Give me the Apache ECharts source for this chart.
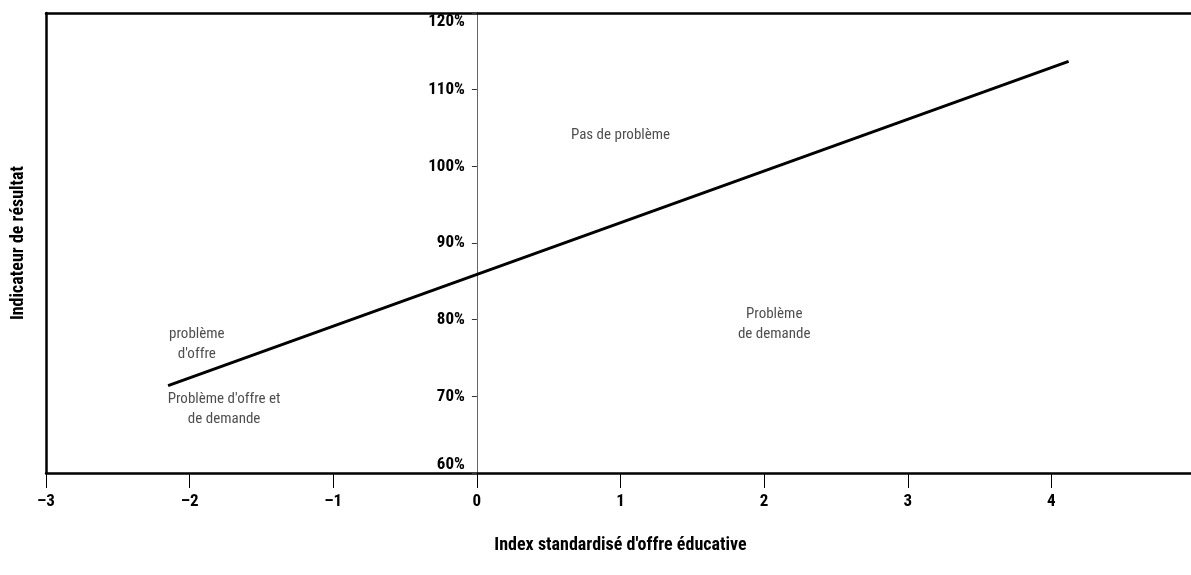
<!DOCTYPE html>
<html><head><meta charset="utf-8">
<script src="https://cdn.jsdelivr.net/npm/echarts@6/dist/echarts.min.js"></script>
<style>html,body{margin:0;padding:0;background:#fff}#c{width:1191px;height:575px}</style>
</head><body><div id="c"></div>
<script>
var FONT = '"Liberation Sans Narrow","Arial Narrow","Roboto Condensed",Roboto,sans-serif';
var xTicks = [-3, -2, -1, 0, 1, 2, 3, 4];
var yTicks = [60, 70, 80, 90, 100, 110, 120];
var lineX = [-2.15, 4.12];
var lineY = [71.4, 113.7];
var notes = [
  { text: 'Pas de problème', x: 1.0, y: 104.1 },
  { text: 'Problème\nde demande', x: 2.07, y: 79.4 },
  { text: 'problème\nd\'offre', x: -1.95, y: 76.75 },
  { text: 'Problème d\'offre et\nde demande', x: -1.76, y: 68.3 }
];
var xTitle = 'Index standardisé d\'offre éducative';
var yTitle = 'Indicateur de résultat';

var GRID_LEFT = 46;
var chart = echarts.init(document.getElementById('c'), null, { renderer: 'canvas' });
function build(yOffset) {
  return {
    animation: false,
    grid: { left: GRID_LEFT, right: -4, top: 13, bottom: 102, containLabel: false, outerBoundsMode: 'none' },
    xAxis: [{
      type: 'value', min: -3, max: 5, interval: 1, position: 'bottom',
      axisLine: { onZero: false, lineStyle: { color: '#000', width: 2.5 } },
      axisTick: { show: true, length: 15, lineStyle: { color: '#000', width: 1 } },
      axisLabel: {
        margin: 20, color: '#000', fontFamily: FONT, fontWeight: 'bold', fontSize: 17,
        formatter: function (v) { return xTicks.indexOf(v) >= 0 ? String(v).replace('-', '\u2013') : ''; }
      },
      splitLine: { show: false },
      name: xTitle, nameLocation: 'middle', nameGap: 63,
      nameTextStyle: { color: '#000', fontFamily: FONT, fontWeight: 'bold', fontSize: 18 }
    }, {
      type: 'value', min: -3, max: 5, position: 'top',
      axisLine: { onZero: false, lineStyle: { color: '#000', width: 2.5 } },
      axisTick: { show: false }, axisLabel: { show: false }, splitLine: { show: false }
    }],
    yAxis: [{
      type: 'value', min: 60, max: 120, interval: 10, position: 'left', offset: yOffset,
      axisLine: { show: true, onZero: false, lineStyle: { color: '#666', width: 1 } },
      axisTick: { show: true, length: 5, lineStyle: { color: '#333', width: 1 } },
      axisLabel: {
        margin: 12, color: '#000', fontFamily: FONT, fontWeight: 'bold', fontSize: 17,
        verticalAlignMinLabel: 'bottom', verticalAlignMaxLabel: 'top',
        formatter: function (v) { return yTicks.indexOf(v) >= 0 ? v + '%' : ''; }
      },
      splitLine: { show: false }
    }, {
      type: 'value', min: 60, max: 120, position: 'left',
      axisLine: { show: true, onZero: false, lineStyle: { color: '#000', width: 2.5 } },
      axisTick: { show: false }, axisLabel: { show: false }, splitLine: { show: false },
      name: yTitle, nameLocation: 'middle', nameGap: 19,
      nameTextStyle: { color: '#000', fontFamily: FONT, fontWeight: 'bold', fontSize: 18 }
    }],
    series: [{
      type: 'line', xAxisIndex: 0, yAxisIndex: 0, symbol: 'none',
      data: lineX.map(function (x, i) { return [x, lineY[i]]; }),
      lineStyle: { color: '#000', width: 3 },
      z: 5
    }, {
      type: 'scatter', xAxisIndex: 0, yAxisIndex: 0, symbolSize: 0,
      data: notes.map(function (n) { return { value: [n.x, n.y], label: { formatter: n.text } }; }),
      label: {
        show: true, position: 'inside', color: '#222', fontFamily: FONT, fontSize: 15,
        lineHeight: 20, align: 'center', verticalAlign: 'middle'
      },
      silent: true
    }]
  };
}
chart.setOption(build(0));
var zeroPx = chart.convertToPixel({ xAxisIndex: 0 }, 0);
chart.setOption(build(-(zeroPx - GRID_LEFT)));
</script></body></html>
